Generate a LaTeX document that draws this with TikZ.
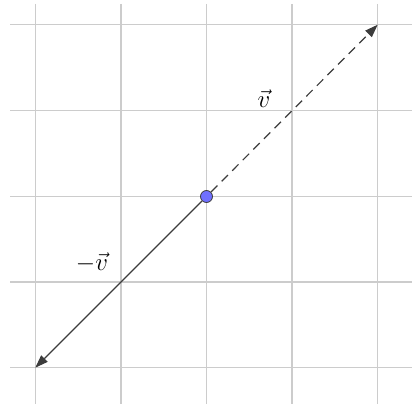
\documentclass[tikz,border=0pt]{standalone}
\usetikzlibrary{arrows.meta}
\definecolor{gridgray}{RGB}{204,204,204}
\definecolor{veccol}{RGB}{60,60,60}
\definecolor{dotblue}{RGB}{112,112,255}
\begin{document}
\begin{tikzpicture}[x=1pt,y=-1pt,
  gridline/.style={draw=gridgray,line width=1.4pt},
  vecline/.style={draw=veccol,line width=1.2pt,-{Triangle[length=13pt,width=9pt]}},
  veclabel/.style={fill=white,inner sep=1pt,font=\fontsize{25}{28}\selectfont},
  dotnode/.style={circle,draw=veccol,fill=dotblue,line width=0.8pt,minimum size=12pt,inner sep=0pt}]
\useasboundingbox (0,0) rectangle (412,404);
\foreach \x in {35.3,120.9,206.5,292.1,377.7}
  \draw[gridline] (\x,4) -- (\x,404);
\foreach \y in {24.7,110.6,196.5,282.1,367.7}
  \draw[gridline] (10,\y) -- (412,\y);
\coordinate (a) at (377.7,24.7);
\coordinate (b) at (35.3,367.7);
\node[veclabel] (lv) at (264,99) {$\vec{v}$};
\node[veclabel] (lmv) at (92,263) {$-\vec{v}$};
\node[dotnode] (o) at (206.5,196.5) {};
\draw[vecline,dashed,dash pattern=on 9pt off 6pt] (o) -- (a);
\draw[vecline] (o) -- (b);
\end{tikzpicture}
\end{document}
